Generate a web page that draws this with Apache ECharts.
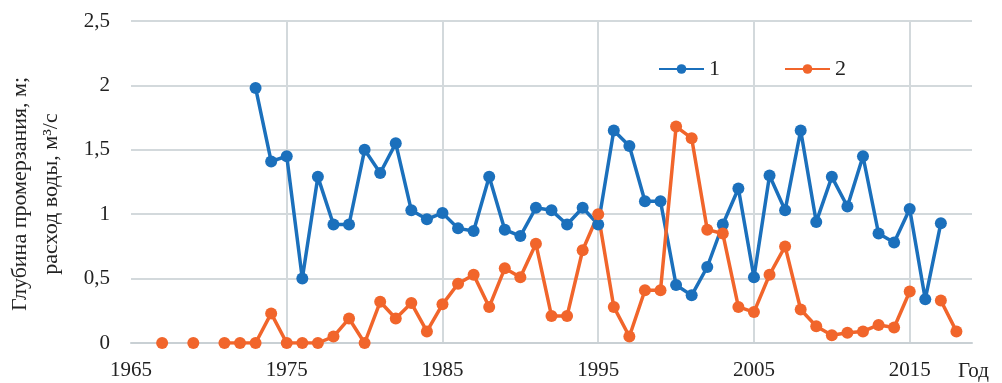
<!DOCTYPE html>
<html><head><meta charset="utf-8">
<script src="https://cdn.jsdelivr.net/npm/echarts@6/dist/echarts.min.js"></script>
<style>html,body{margin:0;padding:0;background:#fff}#c{width:1002px;height:383px}</style>
</head><body><div id="c"></div>
<script>
// Series 1: глубина промерзания (1973–2017)
const years1 = [1973,1974,1975,1976,1977,1978,1979,1980,1981,1982,1983,1984,1985,1986,1987,1988,1989,1990,1991,1992,1993,1994,1995,1996,1997,1998,1999,2000,2001,2002,2003,2004,2005,2006,2007,2008,2009,2010,2011,2012,2013,2014,2015,2016,2017];
const values1 = [1.98,1.41,1.45,0.50,1.29,0.92,0.92,1.50,1.32,1.55,1.03,0.96,1.01,0.89,0.87,1.29,0.88,0.83,1.05,1.03,0.92,1.05,0.92,1.65,1.53,1.10,1.10,0.45,0.37,0.59,0.92,1.20,0.51,1.30,1.03,1.65,0.94,1.29,1.06,1.45,0.85,0.78,1.04,0.34,0.93];
// Series 2: расход воды
const years2 = [1967,1968,1969,1970,1971,1972,1973,1974,1975,1976,1977,1978,1979,1980,1981,1982,1983,1984,1985,1986,1987,1988,1989,1990,1991,1992,1993,1994,1995,1996,1997,1998,1999,2000,2001,2002,2003,2004,2005,2006,2007,2008,2009,2010,2011,2012,2013,2014,2015,2016,2017,2018];
const values2 = [0,null,0,null,0,0,0,0.23,0,0,0,0.05,0.19,0,0.32,0.19,0.31,0.09,0.30,0.46,0.53,0.28,0.58,0.51,0.77,0.21,0.21,0.72,1.00,0.28,0.05,0.41,0.41,1.68,1.59,0.88,0.85,0.28,0.24,0.53,0.75,0.26,0.13,0.06,0.08,0.09,0.14,0.12,0.40,null,0.33,0.09];
const seriesNames = ['1','2'];
const yTitle = 'Глубина промерзания, м;\nрасход воды, м³/с';
const xTitle = 'Год';

const blue = '#1b70bc', orange = '#f1652b';
const font = '"Liberation Serif", "Times New Roman", serif';
const txt = '#222';
const chart = echarts.init(document.getElementById('c'));
chart.setOption({
  animation: false,
  grid: {left: 131, right: 30, top: 21, bottom: 40},
  legend: {
    data: seriesNames, left: 653, top: 53, itemWidth: 45, itemHeight: 12, itemGap: 64,
    textStyle: {fontFamily: font, fontSize: 22, color: txt}
  },
  xAxis: {
    type: 'value', min: 1965, max: 2019, interval: 10,
    axisLine: {lineStyle: {color: '#c9d0d4', width: 2}},
    axisTick: {show: false},
    axisLabel: {fontFamily: font, fontSize: 21, color: txt, margin: 17,
      formatter: v => ((v - 1965) % 10 === 0 ? String(v) : '')},
    splitLine: {show: true, showMinLine: false, showMaxLine: false, lineStyle: {color: '#d3d9dc', width: 2}}
  },
  yAxis: {
    type: 'value', min: 0, max: 2.5, interval: 0.5,
    axisLine: {show: false}, axisTick: {show: false},
    axisLabel: {fontFamily: font, fontSize: 21, color: txt, margin: 21,
      formatter: v => String(v).replace('.', ',')},
    splitLine: {lineStyle: {color: '#d3d9dc', width: 2}}
  },
  graphic: [
    {type: 'text', x: 36, y: 194, rotation: Math.PI / 2,
      style: {text: yTitle, fontFamily: font, fontSize: 22, fill: txt, align: 'center', verticalAlign: 'middle', lineHeight: 31}},
    {type: 'text', x: 958, y: 361,
      style: {text: xTitle, fontFamily: font, fontSize: 21, fill: txt}}
  ],
  series: [
    {name: seriesNames[0], type: 'line', data: years1.map((y, i) => [y, values1[i]]),
      color: blue, lineStyle: {width: 3.5}, symbol: 'circle', symbolSize: 12, itemStyle: {color: blue}},
    {name: seriesNames[1], type: 'line', data: years2.map((y, i) => [y, values2[i]]),
      color: orange, lineStyle: {width: 3.5}, symbol: 'circle', symbolSize: 12, itemStyle: {color: orange}, connectNulls: false}
  ]
});
</script></body></html>
